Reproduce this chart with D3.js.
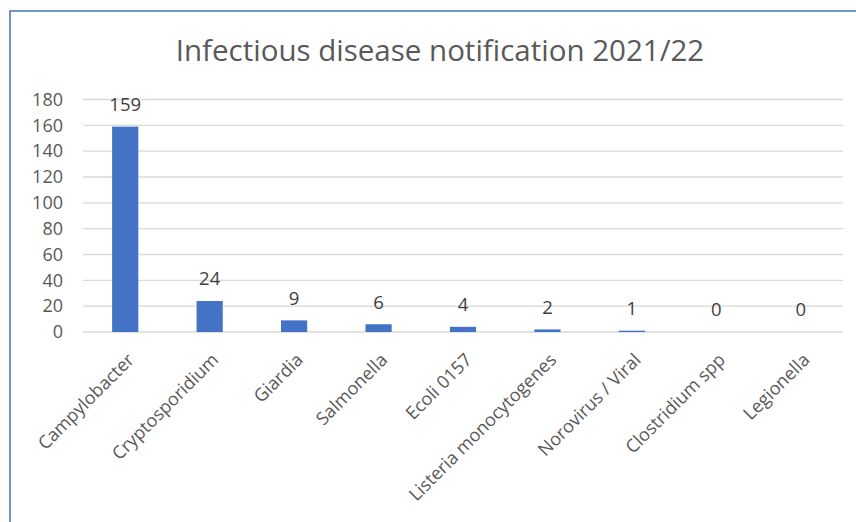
<!DOCTYPE html>
<html>
<head>
<meta charset="utf-8">
<script src="https://cdn.jsdelivr.net/npm/d3@7"></script>
<style>
  body { margin: 0; background: #fff; }
  svg { display: block; font-family: "Open Sans", sans-serif; }
</style>
</head>
<body>
<svg id="chart" width="856" height="522"></svg>
<script>
const categories = ["Campylobacter", "Cryptosporidium", "Giardia", "Salmonella", "Ecoli 0157",
    "Listeria monocytogenes", "Norovirus / Viral", "Clostridium spp", "Legionella"];
const cases = [159, 24, 9, 6, 4, 2, 1, 0, 0];
const yTicks = [0, 20, 40, 60, 80, 100, 120, 140, 160, 180];
const title = "Infectious disease notification 2021/22";

const svg = d3.select("#chart");
const W = 856, H = 522;
const margin = { top: 99.5, right: 13, bottom: 190, left: 83 };

// chart frame (only top/left edges show in the crop)
svg.append("rect")
    .attr("x", 10).attr("y", 11)
    .attr("width", W + 20).attr("height", H + 20)
    .attr("fill", "none")
    .attr("stroke", "#4472c4")
    .attr("stroke-width", 1.5);

svg.append("text")
    .attr("x", 440).attr("y", 61)
    .attr("text-anchor", "middle")
    .attr("fill", "#595959")
    .style("font-size", "29.5px")
    .text(title);

const x = d3.scaleBand()
    .domain(categories)
    .range([margin.left, W - margin.right])
    .padding(0);
const y = d3.scaleLinear()
    .domain([0, 180])
    .range([332, margin.top]);

const g = svg.append("g");

// gridlines
g.selectAll("line.grid")
    .data(yTicks)
    .enter().append("line")
    .attr("class", "grid")
    .attr("x1", margin.left).attr("x2", W - margin.right)
    .attr("y1", d => y(d)).attr("y2", d => y(d))
    .attr("stroke", "#d9d9d9")
    .attr("stroke-width", 1.3);

const yAxis = d3.axisLeft(y).tickValues(yTicks).tickSize(0).tickPadding(20);
g.append("g")
    .attr("transform", `translate(${margin.left},0)`)
    .call(yAxis)
    .call(s => s.select(".domain").remove())
    .selectAll("text")
    .attr("fill", "#595959")
    .style("font-size", "18px")
    .style("font-family", "Open Sans, sans-serif");

const barW = x.bandwidth() * 0.31;
g.selectAll("rect.bar")
    .data(cases)
    .enter().append("rect")
    .attr("class", "bar")
    .attr("x", (d, i) => x(categories[i]) + x.bandwidth() / 2 - barW / 2)
    .attr("y", d => y(d))
    .attr("width", barW)
    .attr("height", d => y(0) - y(d))
    .attr("fill", "#4472c4");

g.selectAll("text.val")
    .data(cases)
    .enter().append("text")
    .attr("class", "val")
    .attr("x", (d, i) => x(categories[i]) + x.bandwidth() / 2)
    .attr("y", d => y(d) - 22)
    .attr("dy", "0.35em")
    .attr("text-anchor", "middle")
    .attr("fill", "#404040")
    .style("font-size", "18.5px")
    .text(d => d);

const xAxis = d3.axisBottom(x).tickSize(0).tickPadding(0);
g.append("g")
    .attr("transform", "translate(0,332)")
    .call(xAxis)
    .call(s => s.select(".domain").remove())
    .selectAll("text")
    .attr("fill", "#595959")
    .style("font-size", "18px")
    .style("font-family", "Open Sans, sans-serif")
    .attr("text-anchor", "end")
    .attr("transform", "translate(10,29) rotate(-45)")
    .attr("dy", 0)
    .attr("y", 0);
</script>
</body>
</html>
